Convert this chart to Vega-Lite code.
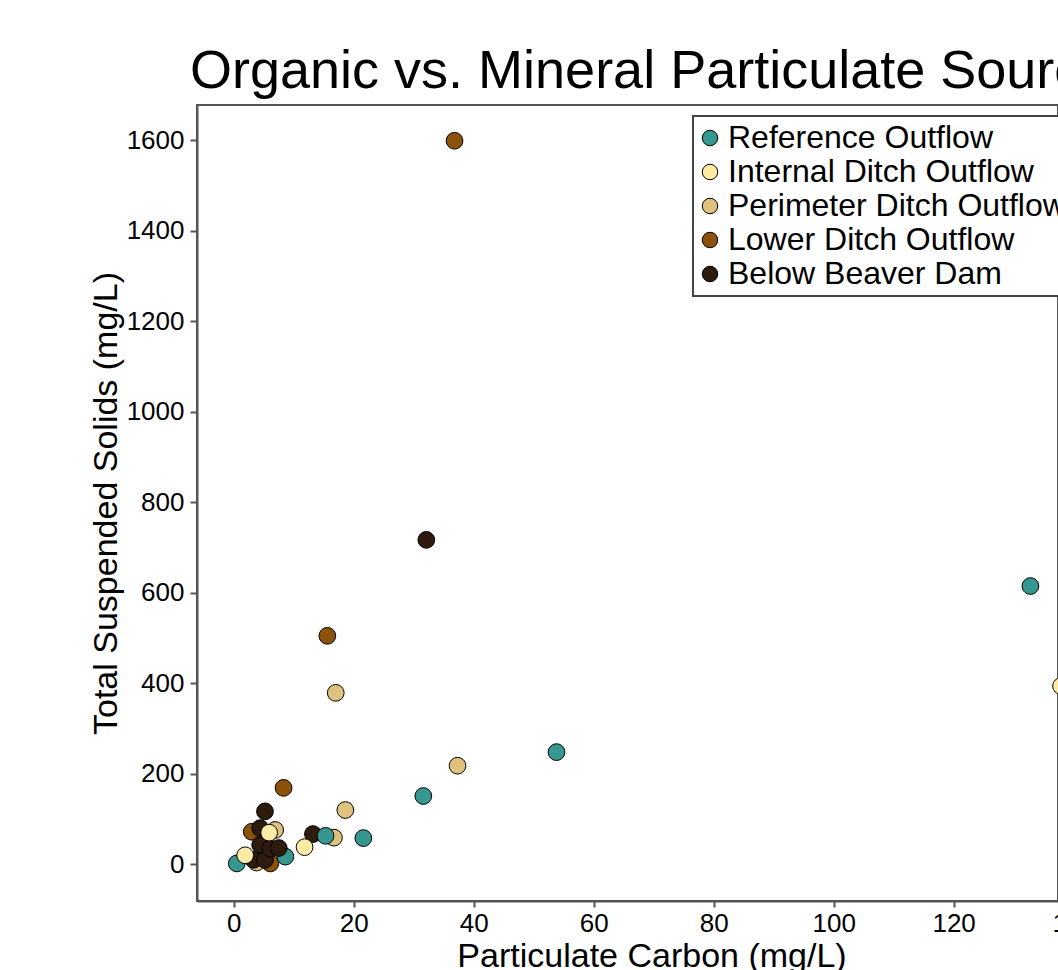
{
  "$schema": "https://vega.github.io/schema/vega-lite/v6.json",
  "autosize": {"type": "none"},
  "padding": {"left": 197, "top": 105, "right": 0, "bottom": 69},
  "width": 861,
  "height": 796,
  "background": "white",
  "title": {
    "text": "Organic vs. Mineral Particulate Sources",
    "anchor": "start",
    "frame": "group",
    "fontSize": 54,
    "font": "Liberation Sans",
    "fontWeight": "normal",
    "color": "black",
    "baseline": "alphabetic",
    "offset": 15,
    "dx": -7,
    "dy": 52
  },
  "data": {
    "values": [
      {"site": "Lower Ditch Outflow", "pc": 6.1, "tss": 2},
      {"site": "Perimeter Ditch Outflow", "pc": 3.8, "tss": 4},
      {"site": "Reference Outflow", "pc": 0.5, "tss": 2},
      {"site": "Lower Ditch Outflow", "pc": 3.0, "tss": 72},
      {"site": "Below Beaver Dam", "pc": 3.3, "tss": 10},
      {"site": "Below Beaver Dam", "pc": 5.2, "tss": 10},
      {"site": "Reference Outflow", "pc": 8.6, "tss": 17},
      {"site": "Below Beaver Dam", "pc": 4.4, "tss": 43},
      {"site": "Below Beaver Dam", "pc": 6.1, "tss": 35},
      {"site": "Below Beaver Dam", "pc": 7.5, "tss": 36},
      {"site": "Below Beaver Dam", "pc": 4.4, "tss": 80},
      {"site": "Below Beaver Dam", "pc": 5.2, "tss": 117},
      {"site": "Perimeter Ditch Outflow", "pc": 6.9, "tss": 76},
      {"site": "Internal Ditch Outflow", "pc": 5.9, "tss": 70},
      {"site": "Internal Ditch Outflow", "pc": 1.9, "tss": 20},
      {"site": "Perimeter Ditch Outflow", "pc": 16.7, "tss": 59},
      {"site": "Below Beaver Dam", "pc": 13.2, "tss": 67},
      {"site": "Reference Outflow", "pc": 15.3, "tss": 63},
      {"site": "Internal Ditch Outflow", "pc": 11.8, "tss": 38},
      {"site": "Lower Ditch Outflow", "pc": 8.3, "tss": 169},
      {"site": "Perimeter Ditch Outflow", "pc": 18.6, "tss": 120},
      {"site": "Reference Outflow", "pc": 21.6, "tss": 58},
      {"site": "Reference Outflow", "pc": 31.6, "tss": 151},
      {"site": "Perimeter Ditch Outflow", "pc": 37.3, "tss": 218},
      {"site": "Reference Outflow", "pc": 53.8, "tss": 248},
      {"site": "Perimeter Ditch Outflow", "pc": 17.0, "tss": 379},
      {"site": "Lower Ditch Outflow", "pc": 15.6, "tss": 505},
      {"site": "Below Beaver Dam", "pc": 32.1, "tss": 717},
      {"site": "Lower Ditch Outflow", "pc": 36.8, "tss": 1599},
      {"site": "Reference Outflow", "pc": 132.8, "tss": 615},
      {"site": "Internal Ditch Outflow", "pc": 137.9, "tss": 394}
    ]
  },
  "mark": {"type": "point", "shape": "circle", "filled": true, "size": 280, "stroke": "black", "strokeWidth": 1, "opacity": 1},
  "encoding": {
    "x": {
      "field": "pc",
      "type": "quantitative",
      "scale": {"domain": [-6.13, 145.4], "range": [0, 909], "nice": false, "zero": false},
      "axis": {
        "values": [0, 20, 40, 60, 80, 100, 120, 140],
        "format": "d",
        "title": "Particulate Carbon (mg/L)",
        "labelFlush": false,
        "tickSize": 6,
        "labelPadding": 3,
        "titlePadding": 3
      }
    },
    "y": {
      "field": "tss",
      "type": "quantitative",
      "scale": {"domain": [-81, 1678], "nice": false, "zero": false},
      "axis": {
        "values": [0, 200, 400, 600, 800, 1000, 1200, 1400, 1600],
        "format": "d",
        "title": "Total Suspended Solids (mg/L)",
        "tickSize": 7,
        "labelPadding": 6,
        "titlePadding": 3
      }
    },
    "color": {
      "field": "site",
      "type": "nominal",
      "scale": {
        "domain": ["Reference Outflow", "Internal Ditch Outflow", "Perimeter Ditch Outflow", "Lower Ditch Outflow", "Below Beaver Dam"],
        "range": ["#35978F", "#FFEBA5", "#DFC27D", "#8C510A", "#2D1B0D"]
      },
      "legend": {
        "title": null,
        "orient": "none",
        "legendX": 496,
        "legendY": 11,
        "padding": 6,
        "strokeColor": "#444",
        "fillColor": "white",
        "symbolType": "circle",
        "symbolSize": 240,
        "symbolStrokeColor": "black",
        "symbolStrokeWidth": 1,
        "symbolOpacity": 1,
        "symbolOffset": -5,
        "labelFont": "Liberation Sans",
        "labelFontSize": 32,
        "labelColor": "black",
        "labelOffset": 2,
        "labelLimit": 0,
        "rowPadding": 2,
        "encode": {"legend": {"update": {"strokeWidth": {"value": 2}}}}
      }
    }
  },
  "config": {
    "font": "Liberation Sans",
    "view": {"stroke": "#555", "strokeWidth": 2},
    "axis": {
      "grid": false,
      "domainColor": "#555",
      "domainWidth": 2,
      "tickColor": "#555",
      "tickWidth": 2,
      "labelFont": "Liberation Sans",
      "labelFontSize": 26,
      "labelColor": "black",
      "titleFont": "Liberation Sans",
      "titleFontSize": 34,
      "titleFontWeight": "normal",
      "titleColor": "black"
    }
  }
}
